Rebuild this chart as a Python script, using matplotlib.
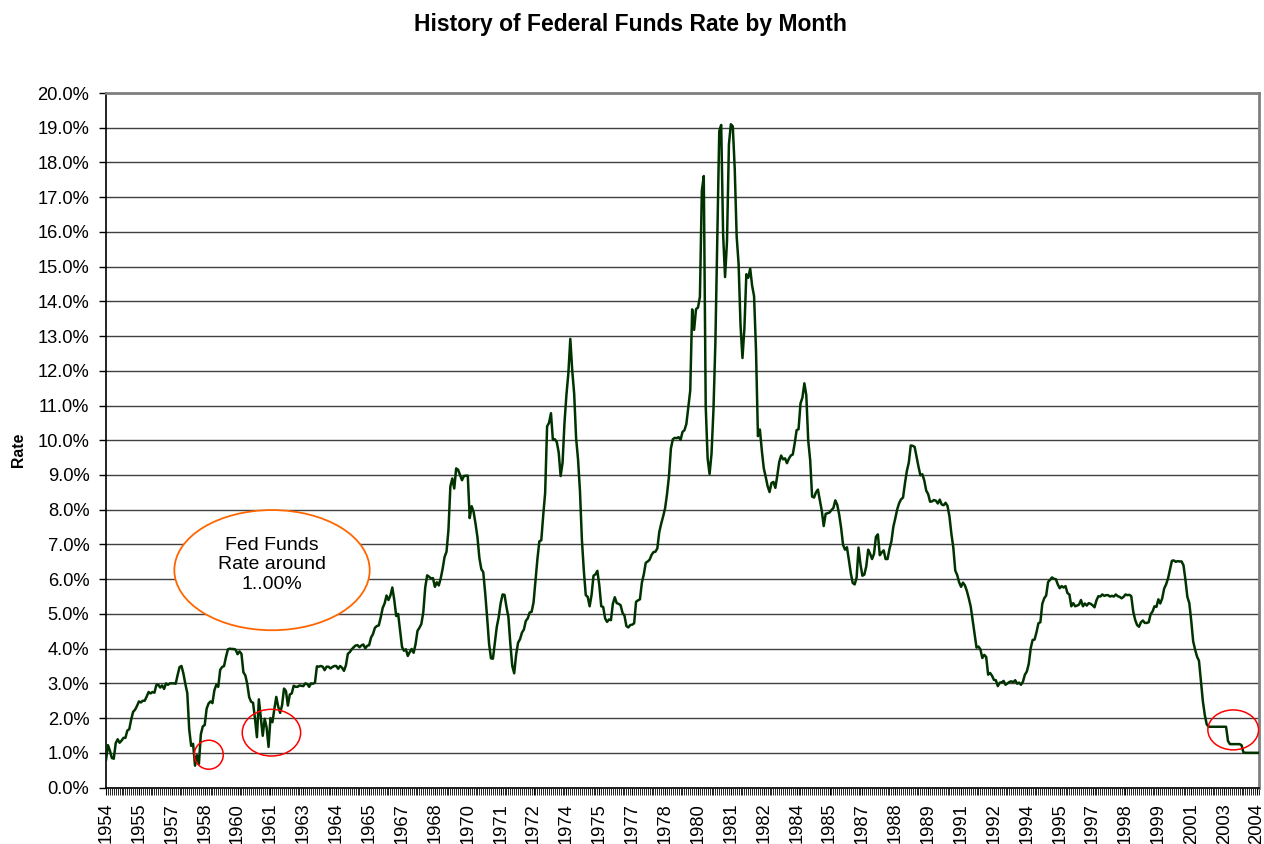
import matplotlib
matplotlib.use("Agg")
import matplotlib.pyplot as plt
from matplotlib.patches import Ellipse
from matplotlib.ticker import FixedLocator, MultipleLocator, FuncFormatter
import numpy as np

# monthly federal funds rate (%), Jul 1954 .. Mar 2004
rates_1950s = [
    0.80, 1.22, 1.06, 0.85, 0.83, 1.28,
    1.39, 1.29, 1.35, 1.43, 1.43, 1.64, 1.68, 1.96, 2.18, 2.24, 2.35, 2.48,
    2.45, 2.50, 2.50, 2.62, 2.75, 2.71, 2.75, 2.73, 2.95, 2.96, 2.88, 2.94,
    2.84, 3.00, 2.96, 3.00, 3.00, 3.00, 2.99, 3.24, 3.47, 3.50, 3.28, 2.98,
    2.72, 1.67, 1.20, 1.26, 0.63, 0.93, 0.68, 1.53, 1.76, 1.80, 2.27, 2.42,
    2.48, 2.43, 2.80, 2.96, 2.90, 3.39, 3.47, 3.50, 3.76, 3.98, 4.00, 3.99,
]
rates_1960s = [
    3.99, 3.97, 3.84, 3.92, 3.85, 3.32, 3.23, 2.98, 2.60, 2.47, 2.44, 1.98,
    1.45, 2.54, 2.02, 1.49, 1.98, 1.73, 1.17, 2.00, 1.88, 2.26, 2.61, 2.33,
    2.15, 2.37, 2.85, 2.78, 2.36, 2.68, 2.71, 2.93, 2.90, 2.90, 2.94, 2.93,
    2.92, 3.00, 2.98, 2.90, 3.00, 2.99, 3.02, 3.49, 3.48, 3.50, 3.48, 3.38,
    3.48, 3.48, 3.43, 3.47, 3.50, 3.50, 3.42, 3.50, 3.45, 3.36, 3.52, 3.85,
    3.90, 3.98, 4.04, 4.09, 4.10, 4.04, 4.09, 4.12, 4.01, 4.08, 4.10, 4.32,
    4.42, 4.60, 4.65, 4.67, 4.90, 5.17, 5.30, 5.53, 5.40, 5.53, 5.76, 5.40,
    4.94, 5.00, 4.53, 4.05, 3.94, 3.98, 3.79, 3.90, 3.99, 3.88, 4.13, 4.51,
    4.60, 4.71, 5.05, 5.76, 6.11, 6.07, 6.02, 6.03, 5.78, 5.91, 5.82, 6.02,
    6.30, 6.64, 6.79, 7.41, 8.67, 8.90, 8.61, 9.19, 9.15, 9.00, 8.85, 8.97,
]
rates_1970s = [
    8.98, 8.98, 7.76, 8.10, 7.94, 7.60, 7.21, 6.61, 6.29, 6.20, 5.60, 4.90,
    4.14, 3.72, 3.71, 4.16, 4.63, 4.91, 5.31, 5.56, 5.55, 5.20, 4.91, 4.14,
    3.50, 3.29, 3.83, 4.17, 4.27, 4.46, 4.55, 4.80, 4.87, 5.04, 5.06, 5.33,
    5.94, 6.58, 7.09, 7.12, 7.84, 8.49, 10.40, 10.50, 10.78, 10.01, 10.03, 9.95,
    9.65, 8.97, 9.35, 10.51, 11.31, 11.93, 12.92, 12.01, 11.34, 10.06, 9.45, 8.53,
    7.13, 6.24, 5.54, 5.49, 5.22, 5.55, 6.10, 6.14, 6.24, 5.82, 5.22, 5.20,
    4.87, 4.77, 4.84, 4.82, 5.29, 5.48, 5.31, 5.29, 5.25, 5.03, 4.95, 4.65,
    4.61, 4.68, 4.69, 4.73, 5.35, 5.39, 5.42, 5.90, 6.14, 6.47, 6.51, 6.56,
    6.70, 6.78, 6.79, 6.89, 7.36, 7.60, 7.81, 8.04, 8.45, 8.96, 9.76, 10.03,
    10.07, 10.06, 10.09, 10.01, 10.24, 10.29, 10.47, 10.94, 11.43, 13.77, 13.18, 13.78,
]
rates_1980s = [
    13.82, 14.13, 17.19, 17.61, 10.98, 9.47, 9.03, 9.61, 10.87, 12.81, 15.85, 18.90,
    19.08, 15.93, 14.70, 15.72, 18.52, 19.10, 19.04, 17.82, 15.87, 15.08, 13.31, 12.37,
    13.22, 14.78, 14.68, 14.94, 14.45, 14.15, 12.59, 10.12, 10.31, 9.71, 9.20, 8.95,
    8.68, 8.51, 8.77, 8.80, 8.63, 8.98, 9.37, 9.56, 9.45, 9.48, 9.34, 9.47,
    9.56, 9.59, 9.91, 10.29, 10.32, 11.06, 11.23, 11.64, 11.30, 9.99, 9.43, 8.38,
    8.35, 8.50, 8.58, 8.27, 7.97, 7.53, 7.88, 7.90, 7.92, 7.99, 8.05, 8.27,
    8.14, 7.86, 7.48, 6.99, 6.85, 6.92, 6.56, 6.17, 5.89, 5.85, 6.04, 6.91,
    6.43, 6.10, 6.13, 6.37, 6.85, 6.73, 6.58, 6.73, 7.22, 7.29, 6.69, 6.77,
    6.83, 6.58, 6.58, 6.87, 7.09, 7.51, 7.75, 8.01, 8.19, 8.30, 8.35, 8.76,
    9.12, 9.36, 9.85, 9.84, 9.81, 9.53, 9.24, 8.99, 9.02, 8.84, 8.55, 8.45,
]
rates_1990s = [
    8.23, 8.24, 8.28, 8.26, 8.18, 8.29, 8.15, 8.13, 8.20, 8.11, 7.81, 7.31,
    6.91, 6.25, 6.12, 5.91, 5.78, 5.90, 5.82, 5.66, 5.45, 5.21, 4.81, 4.43,
    4.03, 4.06, 3.98, 3.73, 3.82, 3.76, 3.25, 3.30, 3.22, 3.10, 3.09, 2.92,
    3.02, 3.03, 3.07, 2.96, 3.00, 3.04, 3.06, 3.03, 3.09, 2.99, 3.02, 2.96,
    3.05, 3.25, 3.34, 3.56, 4.01, 4.25, 4.26, 4.47, 4.73, 4.76, 5.29, 5.45,
    5.53, 5.92, 5.98, 6.05, 6.01, 6.00, 5.85, 5.74, 5.80, 5.76, 5.80, 5.60,
    5.56, 5.22, 5.31, 5.22, 5.24, 5.27, 5.40, 5.22, 5.30, 5.24, 5.31, 5.29,
    5.25, 5.19, 5.39, 5.51, 5.50, 5.56, 5.52, 5.54, 5.54, 5.50, 5.52, 5.50,
    5.56, 5.51, 5.49, 5.45, 5.49, 5.56, 5.54, 5.55, 5.51, 5.07, 4.83, 4.68,
    4.63, 4.76, 4.81, 4.74, 4.74, 4.76, 4.99, 5.07, 5.22, 5.20, 5.42, 5.30,
]
rates_2000s = [
    5.45, 5.73, 5.85, 6.02, 6.27, 6.53, 6.54, 6.50, 6.52, 6.51, 6.51, 6.40,
    5.98, 5.49, 5.31, 4.80, 4.21, 3.97, 3.77, 3.65, 3.07, 2.49, 2.09, 1.82,
    1.75, 1.75, 1.75, 1.75, 1.75, 1.75, 1.75, 1.75, 1.75, 1.75, 1.34, 1.25,
    1.25, 1.25, 1.25, 1.25, 1.25, 1.22, 1.01, 1.00, 1.00, 1.00, 1.00, 1.00,
    1.00, 1.00, 1.00,
]

year_labels = ['1954', '1955', '1957', '1958', '1960', '1961', '1963', '1964',
               '1965', '1967', '1968', '1970', '1971', '1972', '1974', '1975',
               '1977', '1978', '1980', '1981', '1982', '1984', '1985', '1987',
               '1988', '1989', '1991', '1992', '1994', '1995', '1997', '1998',
               '1999', '2001', '2003', '2004']
label_step = 17

rates = np.array(rates_1950s + rates_1960s + rates_1970s + rates_1980s
                 + rates_1990s + rates_2000s) / 100.0
months = np.arange(len(rates))

plt.rcParams['font.family'] = ['Liberation Sans', 'DejaVu Sans']

fig = plt.figure(figsize=(12.64, 8.44), dpi=100)
ax = fig.add_axes([0.0839, 0.0669, 0.9121, 0.8229])

ax.plot(months, rates, color='#003300', lw=1.8, zorder=3)

ax.set_xlim(0, len(rates) - 1)
ax.set_ylim(0, 0.20)

ax.yaxis.set_major_locator(MultipleLocator(0.01))
ax.yaxis.set_major_formatter(FuncFormatter(lambda v, p: f"{v * 100:.1f}%"))
ax.grid(axis='y', color='#404040', lw=1.0, zorder=1)

ax.xaxis.set_major_locator(FixedLocator(np.arange(len(year_labels)) * label_step))
ax.set_xticklabels(year_labels, rotation=90)
ax.xaxis.set_minor_locator(FixedLocator(months))

ax.tick_params(axis='both', which='both', direction='out', labelsize=13.2,
               color='black')
ax.tick_params(axis='x', which='major', length=5, width=0.8, pad=6)
ax.tick_params(axis='x', which='minor', length=5, width=0.6)
ax.tick_params(axis='y', length=5, width=1, pad=7)

for side in ('top', 'right'):
    ax.spines[side].set_color('#808080')
    ax.spines[side].set_linewidth(2)
ax.spines['left'].set_linewidth(1.2)
ax.spines['bottom'].set_linewidth(1.2)

fig.text(0.4985, 1 - 24 / 844, 'History of Federal Funds Rate by Month',
         ha='center', va='center', fontsize=16.5, fontweight='bold')
fig.text(18 / 1264, 1 - 450 / 844, 'Rate', rotation=90, ha='center',
         va='center', fontsize=11.3, fontweight='bold')

# callout bubble
ax.add_patch(Ellipse((85.8, 0.0626), 101, 0.0346, facecolor='white',
                     edgecolor='#FF6600', lw=1.3, zorder=4))
ax.text(85.8, 0.0641, 'Fed Funds\nRate around\n1..00%', ha='center',
        va='center', fontsize=14.0, linespacing=1.22, zorder=5)

# red circles around the low points
for cx, cy, w, h in [(53.1, 0.00945, 15, 0.00835),
                     (85.5, 0.0158, 30.2, 0.01345),
                     (582.7, 0.0166, 26.2, 0.0115)]:
    ax.add_patch(Ellipse((cx, cy), w, h, facecolor='none', edgecolor='red',
                         lw=1.1, zorder=5, clip_on=False))

fig.savefig('out.png', dpi=100)
